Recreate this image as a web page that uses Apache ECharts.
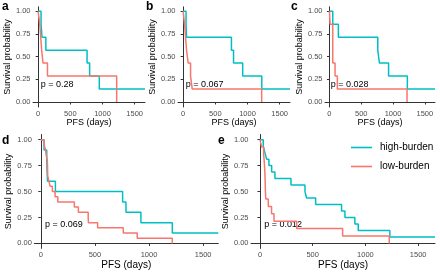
<!DOCTYPE html>
<html>
<head>
<meta charset="utf-8">
<script src="https://cdn.jsdelivr.net/npm/echarts@6/dist/echarts.min.js"></script>
<style>
  html, body { margin: 0; padding: 0; background: #fff; }
  #chart { width: 440px; height: 274px; }
</style>
</head>
<body>
<div id="chart"></div>
<script>
// KM step data (time in days, survival probability)
const highA_t = [0, 45, 60, 120, 760, 800, 950, 1660];
const highA_s = [1, 0.857, 0.714, 0.571, 0.429, 0.286, 0.143, 0.143];
const lowA_t = [0, 25, 55, 75, 145, 1220];
const lowA_s = [1, 0.857, 0.571, 0.429, 0.286, 0];

const highB_t = [0, 45, 53, 750, 783, 925, 1222, 1660];
const highB_s = [1, 0.857, 0.714, 0.571, 0.429, 0.286, 0.143, 0.143];
const lowB_t = [0, 22, 53, 78, 115, 141, 1220];
const lowB_s = [1, 0.857, 0.571, 0.429, 0.286, 0.143, 0];

const highC_t = [0, 52, 140, 760, 786, 930, 1225, 1660];
const highC_s = [1, 0.857, 0.714, 0.571, 0.429, 0.286, 0.143, 0.143];
const lowC_t = [0, 10, 52, 88, 124, 1220];
const lowC_s = [1, 0.857, 0.429, 0.286, 0.143, 0];

const highD_t = [0, 30, 55, 58, 62, 135, 756, 787, 925, 1215, 1640];
const highD_s = [1, 0.9, 0.8, 0.7, 0.6, 0.5, 0.4, 0.3, 0.2, 0.1, 0.1];
const lowD_t = [0, 30, 45, 50, 60, 62, 63, 64, 75, 86, 107, 132, 157, 310, 347, 438, 440, 525, 762, 891, 1215];
const lowD_s = [1, 0.95, 0.9, 0.85, 0.8, 0.75, 0.7, 0.65, 0.6, 0.55, 0.5, 0.45, 0.4, 0.35, 0.3, 0.25, 0.2, 0.15, 0.1, 0.05, 0];

const highE_t = [0, 31, 47, 63, 85, 111, 142, 294, 427, 442, 528, 774, 806, 900, 932, 1232, 1660];
const highE_s = [1, 0.9375, 0.875, 0.8125, 0.75, 0.6875, 0.625, 0.5625, 0.5, 0.4375, 0.375, 0.3125, 0.25, 0.1875, 0.125, 0.0625, 0.0625];
const lowE_t = [0, 16, 35, 41, 45, 48, 50, 52, 55, 79, 110, 133, 348, 784, 1226];
const lowE_s = [1, 0.929, 0.857, 0.786, 0.714, 0.643, 0.571, 0.5, 0.429, 0.357, 0.286, 0.214, 0.143, 0.071, 0];

const panelLabels = ["a", "b", "c", "d", "e"];
const pValues = ["p = 0.28", "p = 0.067", "p = 0.028", "p = 0.069", "p = 0.012"];
const xTicks = [0, 500, 1000, 1500];
const yTicks = [0, 0.25, 0.5, 0.75, 1];

const HIGH = "#00BFC4";
const LOW = "#F8766D";
const FONT = "'Liberation Sans', Arial, sans-serif";
const NARROW = "'Liberation Sans Narrow', 'Arial Narrow', 'Liberation Sans', sans-serif";

const panels = [
  { high: [highA_t, highA_s], low: [lowA_t, lowA_s], grid: { left: 33, top: 6.8, width: 112, height: 100.2 }, x: [-80, 1660], top: true },
  { high: [highB_t, highB_s], low: [lowB_t, lowB_s], grid: { left: 178, top: 6.8, width: 112, height: 100.2 }, x: [-80, 1660], top: true },
  { high: [highC_t, highC_s], low: [lowC_t, lowC_s], grid: { left: 325, top: 6.8, width: 110, height: 100.2 }, x: [-70, 1660], top: true },
  { high: [highD_t, highD_s], low: [lowD_t, lowD_s], grid: { left: 34.3, top: 134.5, width: 184, height: 113.9 }, x: [-60, 1640], top: false },
  { high: [highE_t, highE_s], low: [lowE_t, lowE_s], grid: { left: 251, top: 134.5, width: 184, height: 113.9 }, x: [-85, 1660], top: false }
];

const zip = (t, s) => t.map((v, i) => [v, s[i]]);

const grid = [], xAxis = [], yAxis = [], series = [];
panels.forEach((p, i) => {
  grid.push(p.grid);
  xAxis.push({
    type: "value", gridIndex: i, min: p.x[0], max: p.x[1],
    name: "PFS (days)", nameLocation: "middle", nameGap: p.top ? 11 : 9,
    nameTextStyle: { fontSize: p.top ? 9 : 10, color: "#000", fontFamily: p.top ? NARROW : FONT },
    axisLine: { lineStyle: { color: "#333", width: 1 } },
    axisTick: { length: 2.5, customValues: xTicks, lineStyle: { color: "#333" } },
    axisLabel: { customValues: xTicks, fontSize: 7.5, color: "#4d4d4d", margin: 2.5, fontFamily: FONT,
      formatter: v => String(v) },
    splitLine: { show: false }
  });
  yAxis.push({
    type: "value", gridIndex: i, min: p.top ? -0.055 : -0.048, max: 1.05,
    name: "Survival probability", nameLocation: "middle", nameRotate: 90, nameGap: p.top ? 12 : 14,
    nameTextStyle: { fontSize: 9, color: "#000", fontFamily: FONT },
    axisLine: { show: true, lineStyle: { color: "#333", width: 1 } },
    axisTick: { show: true, length: 2.5, customValues: yTicks, lineStyle: { color: "#333" } },
    axisLabel: { customValues: yTicks, fontSize: 7.5, color: "#4d4d4d", margin: 2.5, fontFamily: FONT,
      formatter: v => v.toFixed(2) },
    splitLine: { show: false }
  });
  series.push({
    name: "high-burden", type: "line", step: "end", xAxisIndex: i, yAxisIndex: i,
    symbol: "none", data: zip(p.high[0], p.high[1]),
    lineStyle: { color: HIGH, width: 1.5 }, itemStyle: { color: HIGH }
  });
  series.push({
    name: "low-burden", type: "line", step: "end", xAxisIndex: i, yAxisIndex: i,
    symbol: "none", data: zip(p.low[0], p.low[1]),
    lineStyle: { color: LOW, width: 1.5 }, itemStyle: { color: LOW }
  });
});

// panel letters and p-values
const letterPos = [[2, 1], [146, 1], [291, 1], [2, 135], [218, 135]];
const pPos = [[40.7, 85], [185.7, 85], [330.7, 85], [45, 224.3], [264.3, 224.3]];
const graphic = [];
panelLabels.forEach((l, i) => {
  graphic.push({ type: "text", left: letterPos[i][0], top: letterPos[i][1],
    style: { text: l, font: "bold 12px " + FONT, fill: "#000" } });
  graphic.push({ type: "text", x: pPos[i][0], y: pPos[i][1],
    style: { text: pValues[i], font: "9px " + FONT, fill: "#000", verticalAlign: "middle" } });
});

const chart = echarts.init(document.getElementById("chart"), null, { renderer: "canvas" });
chart.setOption({
  animation: false,
  backgroundColor: "#fff",
  grid: grid,
  xAxis: xAxis,
  yAxis: yAxis,
  series: series,
  graphic: graphic,
  legend: {
    data: ["high-burden", "low-burden"],
    orient: "vertical", left: 351, top: 142.5, padding: 0,
    icon: "rect", itemWidth: 21, itemHeight: 1.6, itemGap: 9,
    textStyle: { fontSize: 10, color: "#000", fontFamily: FONT, padding: [0, 0, 0, 3] }
  }
});
</script>
</body>
</html>
